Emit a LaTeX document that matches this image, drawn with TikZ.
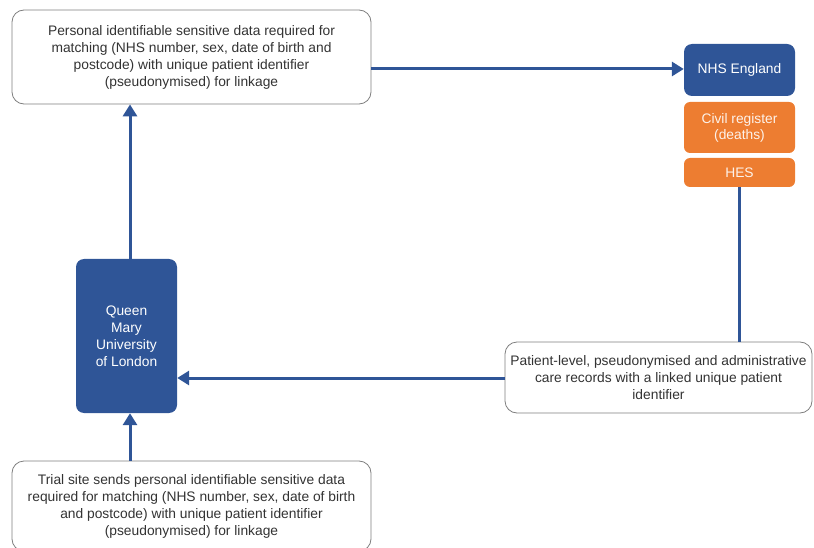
\documentclass[tikz,border=0pt]{standalone}
\usepackage{fontspec}
\setmainfont{Liberation Sans}
\usetikzlibrary{arrows.meta}
\definecolor{nhsblue}{HTML}{2F5597}
\definecolor{nhsorange}{HTML}{ED7D31}
\definecolor{txtgray}{HTML}{333333}
\definecolor{boxgray}{HTML}{7F7F7F}
\begin{document}
\begin{tikzpicture}[x=1pt,y=-1pt,
  whitebox/.style={draw=boxgray, line width=0.8pt, fill=white, rounded corners=12pt, text=txtgray, align=center, font=\fontsize{13.8}{17}\selectfont, inner sep=0pt},
  bluebox/.style={fill=nhsblue, rounded corners=8pt, text=white, align=center, font=\fontsize{13.8}{17}\selectfont, inner sep=0pt},
  orangebox/.style={fill=nhsorange, rounded corners=6pt, text=white!90!nhsorange, align=center, font=\fontsize{13.8}{16}\selectfont, inner sep=0pt},
  conn/.style={draw=nhsblue, line width=3pt},
  arr/.style={conn, -{Triangle[length=12pt,width=14pt]}}
]
\useasboundingbox (0,0) rectangle (814,548);
\node[whitebox, minimum width=359pt, minimum height=94pt] (top) at (191.5,57)
  {Personal identifiable sensitive data required for\\matching (NHS number, sex, date of birth and\\postcode) with unique patient identifier\\(pseudonymised) for linkage};
\node[bluebox, minimum width=111pt, minimum height=52pt] (nhs) at (739.5,70) {NHS England};
\node[orangebox, minimum width=111pt, minimum height=51pt] (civil) at (739.5,127.5) {Civil register\\(deaths)};
\node[orangebox, minimum width=111pt, minimum height=29pt] (hes) at (739.5,172.5) {HES};
\node[bluebox, minimum width=101pt, minimum height=154pt] (qm) at (126.5,336) {Queen\\Mary\\University\\of London};
\node[whitebox, minimum width=307pt, minimum height=71pt] (pat) at (658.5,377.5)
  {Patient-level, pseudonymised and administrative\\care records with a linked unique patient\\identifier};
\node[whitebox, minimum width=359pt, minimum height=90pt] (bot) at (191.5,506)
  {Trial site sends personal identifiable sensitive data\\required for matching (NHS number, sex, date of birth\\and postcode) with unique patient identifier\\(pseudonymised) for linkage};
\draw[arr] (top.east |- 0,69) -- (nhs.west |- 0,69);
\draw[conn] (hes.south) -- (pat.north -| hes.south);
\draw[arr] (pat.west |- 0,378) -- (qm.east |- 0,378);
\draw[arr] (qm.north -| 130,0) -- (top.south -| 130,0);
\draw[arr] (bot.north -| 130,0) -- (qm.south -| 130,0);
\end{tikzpicture}
\end{document}
